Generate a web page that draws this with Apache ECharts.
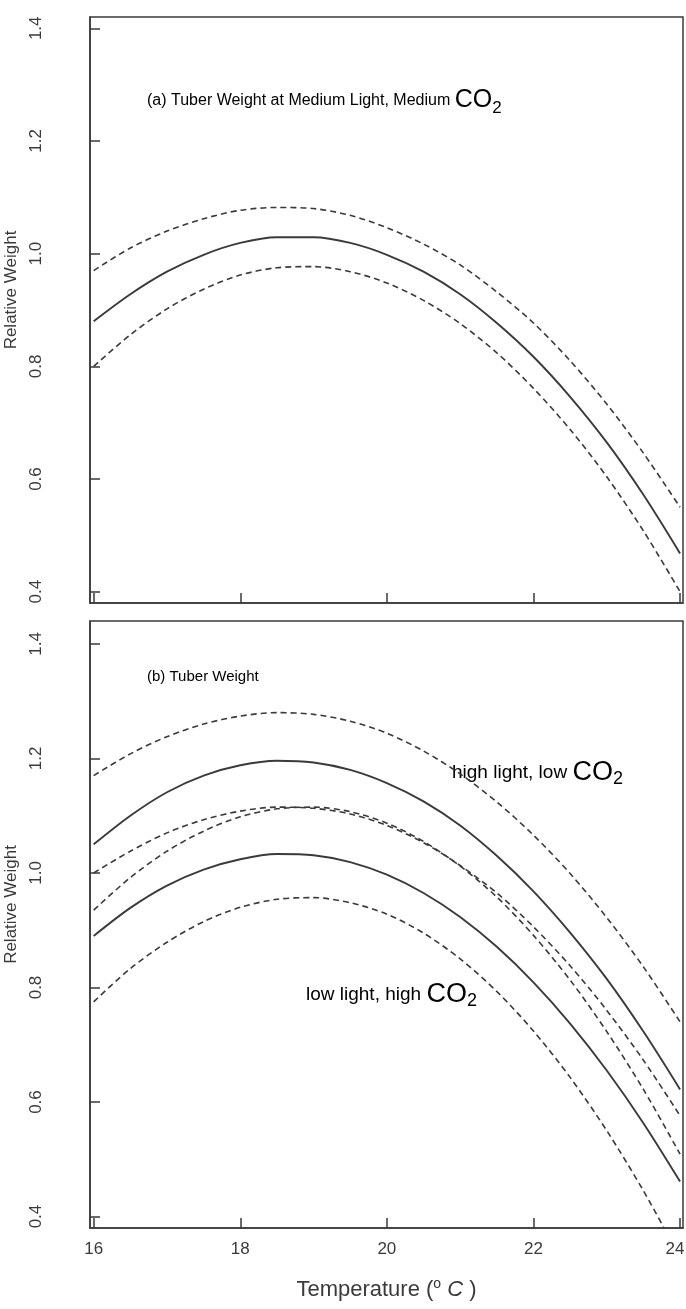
<!DOCTYPE html>
<html>
<head>
<meta charset="utf-8">
<script src="https://cdn.jsdelivr.net/npm/echarts@6/dist/echarts.min.js"></script>
<style>
html,body{margin:0;padding:0;background:#fff;}
#chart{width:686px;height:1309px;}
</style>
</head>
<body>
<div id="chart"></div>
<script>
// temperature (deg C)
let temps = [16, 16.5, 17, 17.5, 18, 18.5, 19, 19.5, 20, 20.5, 21, 21.5, 22, 22.5, 23, 23.5, 24];

// (a) medium light, medium CO2
let aFit   = [0.88, 0.928, 0.968, 0.998, 1.019, 1.029, 1.029, 1.019, 0.998, 0.968, 0.928, 0.877, 0.817, 0.746, 0.665, 0.572, 0.468];
let aUpper = [0.97, 1.01, 1.04, 1.062, 1.077, 1.082, 1.08, 1.068, 1.046, 1.017, 0.98, 0.932, 0.877, 0.81, 0.733, 0.646, 0.55];
let aLower = [0.80, 0.856, 0.902, 0.937, 0.962, 0.975, 0.977, 0.968, 0.948, 0.917, 0.876, 0.824, 0.761, 0.688, 0.604, 0.508, 0.40];

// (b) high light low CO2 / low light high CO2
let bHighFit   = [1.05, 1.10, 1.141, 1.17, 1.188, 1.196, 1.193, 1.18, 1.157, 1.125, 1.083, 1.03, 0.968, 0.896, 0.815, 0.723, 0.622];
let bHighUpper = [1.17, 1.208, 1.238, 1.26, 1.274, 1.28, 1.277, 1.265, 1.244, 1.213, 1.173, 1.124, 1.066, 0.999, 0.922, 0.836, 0.74];
let bHighLower = [1.00, 1.038, 1.07, 1.093, 1.108, 1.115, 1.113, 1.103, 1.083, 1.053, 1.013, 0.965, 0.906, 0.838, 0.76, 0.673, 0.576];
let bLowUpper  = [0.935, 0.992, 1.038, 1.073, 1.098, 1.112, 1.115, 1.107, 1.087, 1.055, 1.012, 0.958, 0.891, 0.813, 0.723, 0.622, 0.509];
let bLowFit    = [0.89, 0.939, 0.978, 1.006, 1.024, 1.033, 1.031, 1.019, 0.997, 0.965, 0.923, 0.871, 0.809, 0.737, 0.655, 0.563, 0.461];
let bLowLower  = [0.775, 0.833, 0.879, 0.915, 0.94, 0.954, 0.957, 0.948, 0.928, 0.895, 0.85, 0.793, 0.724, 0.643, 0.55, 0.445, 0.328];

let xTicks = [16, 18, 20, 22, 24];
let yTicks = [0.4, 0.6, 0.8, 1.0, 1.2, 1.4];

let ink = '#3a3a3a';
let font = 'Liberation Sans, Arial, Helvetica, sans-serif';

function pairs(vals) {
    return temps.map(function (t, i) { return [t, vals[i]]; });
}

function line(vals, dashed, idx) {
    return {
        type: 'line',
        xAxisIndex: idx,
        yAxisIndex: idx,
        data: pairs(vals),
        smooth: 0.3,
        symbol: 'none',
        silent: true,
        lineStyle: {
            color: ink,
            width: dashed ? 1.6 : 1.9,
            type: dashed ? [6, 4] : 'solid'
        }
    };
}

function xAxis(idx, showLabels) {
    return {
        type: 'value',
        gridIndex: idx,
        min: 15.95,
        max: 24.04,
        axisLine: { show: true, lineStyle: { color: ink, width: 1.5 } },
        axisTick: { show: true, inside: true, length: 10, customValues: xTicks, lineStyle: { color: ink, width: 1.5 } },
        axisLabel: {
            show: showLabels,
            customValues: xTicks,
            margin: 13,
            color: ink,
            formatter: function (v) {
                return v === 24 ? '{r|24}' : '{n|' + v + '}';
            },
            rich: {
                n: { fontSize: 17, color: ink, fontFamily: font },
                r: { fontSize: 17, color: ink, fontFamily: font, padding: [0, 10, 0, 0] }
            }
        },
        splitLine: { show: false },
        name: showLabels ? '{t|Temperature (}{s|o}{i| C}{t| )}' : '',
        nameLocation: 'middle',
        nameGap: 47,
        nameTextStyle: {
            rich: {
                t: { fontSize: 22, color: ink, fontFamily: font, lineHeight: 30, verticalAlign: 'middle' },
                s: { fontSize: 14, color: ink, fontFamily: font, lineHeight: 30, verticalAlign: 'top', padding: [2, 0, 0, 0] },
                i: { fontSize: 22, color: ink, fontFamily: font, fontStyle: 'italic', lineHeight: 30, verticalAlign: 'middle' }
            }
        }
    };
}

function yAxis(idx, max) {
    return {
        type: 'value',
        gridIndex: idx,
        min: 0.38,
        max: max,
        axisLine: { show: true, lineStyle: { color: ink, width: 1.5 } },
        axisTick: { show: true, inside: true, length: 10, customValues: yTicks, lineStyle: { color: ink, width: 1.5 } },
        axisLabel: {
            customValues: yTicks,
            rotate: 90,
            margin: 45,
            fontSize: 17,
            color: ink,
            fontFamily: font,
            formatter: function (v) { return v.toFixed(1); }
        },
        splitLine: { show: false },
        name: 'Relative Weight',
        nameLocation: 'middle',
        nameGap: 64,
        nameTextStyle: { fontSize: 17, color: ink, fontFamily: font, padding: [0, 0, 0, 40] }
    };
}

function richSet(size, coSize, subSize) {
    return {
        a: { fontSize: size, color: ink, fontFamily: font, lineHeight: 32, verticalAlign: 'middle' },
        b: { fontSize: coSize, color: ink, fontFamily: font, lineHeight: 32, verticalAlign: 'middle' },
        c: { fontSize: subSize, color: ink, fontFamily: font, lineHeight: 32, verticalAlign: 'bottom' }
    };
}

let myEcharts = echarts.init(document.getElementById('chart'), null, { renderer: 'canvas' });
let option = {
    backgroundColor: '#fff',
    animation: false,
    grid: [
        { left: 90, top: 17, width: 593, height: 586, show: true, borderColor: ink, borderWidth: 1.5, outerBoundsMode: 'none' },
        { left: 90, top: 621, width: 593, height: 607, show: true, borderColor: ink, borderWidth: 1.5, outerBoundsMode: 'none' }
    ],
    xAxis: [xAxis(0, false), xAxis(1, true)],
    yAxis: [yAxis(0, 1.42), yAxis(1, 1.44)],
    graphic: [
        { type: 'text', left: 147, top: 88, style: { text: '{a|(a) Tuber Weight at Medium Light, Medium }{b|CO}{c|2}', rich: richSet(16, 25, 17) } },
        { type: 'text', left: 147, top: 669, style: { text: '{a|(b) Tuber Weight}', rich: richSet(15, 25, 17) } },
        { type: 'text', left: 452, top: 759, style: { text: '{a|high light, low }{b|CO}{c|2}', rich: richSet(19, 27, 18) } },
        { type: 'text', left: 306, top: 981, style: { text: '{a|low light, high }{b|CO}{c|2}', rich: richSet(19, 27, 18) } }
    ],
    series: [
        line(aUpper, true, 0),
        line(aFit, false, 0),
        line(aLower, true, 0),
        line(bHighUpper, true, 1),
        line(bHighFit, false, 1),
        line(bHighLower, true, 1),
        line(bLowUpper, true, 1),
        line(bLowFit, false, 1),
        line(bLowLower, true, 1)
    ]
};
myEcharts.setOption(option);
</script>
</body>
</html>
